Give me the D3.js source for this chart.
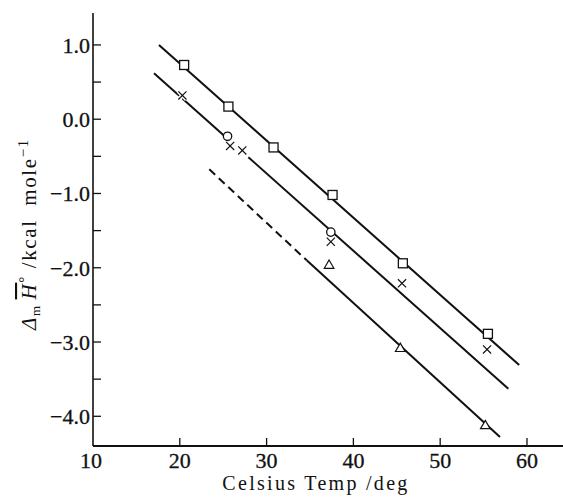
<!DOCTYPE html>
<html>
<head>
<meta charset="utf-8">
<script src="https://cdn.jsdelivr.net/npm/d3@7"></script>
<style>
  body { margin: 0; background: #fff; }
  svg text { font-family: "Liberation Serif", "DejaVu Serif", "Times New Roman", serif; fill: #111; }
</style>
</head>
<body>
<div id="chart"></div>
<script>
// data
var xTicks = [10, 20, 30, 40, 50, 60];
var yTicks = [1.0, 0.0, -1.0, -2.0, -3.0, -4.0];
var yMinor = [0.5, -0.5, -1.5, -2.5, -3.5];

var squareX = [20.5, 25.6, 30.8, 37.6, 45.7, 55.5];
var squareY = [0.73, 0.17, -0.38, -1.02, -1.94, -2.89];

var circleX = [25.5, 37.4];
var circleY = [-0.23, -1.52];

var crossX = [20.3, 25.8, 27.2, 37.4, 45.6, 55.4];
var crossY = [0.32, -0.36, -0.42, -1.65, -2.21, -3.10];

var triX = [37.2, 45.4, 55.2];
var triY = [-1.97, -3.09, -4.13];

// fitted lines, [x, y] ends of each drawn segment
var topLine = [[17.6, 1.0], [59.1, -3.31]];
var midLineA = [[17.03, 0.62], [25.5, -0.262]];
var midLineB = [[27.9, -0.512], [57.85, -3.63]];
var lowDashed = [[23.4, -0.675], [34.62, -1.90]];
var lowSolid = [[34.62, -1.90], [56.89, -4.28]];

var width = 563, height = 502;
var serif = "'Liberation Serif', 'DejaVu Serif', serif";

var svg = d3.select("#chart").append("svg")
  .attr("width", width)
  .attr("height", height);

var x = d3.scaleLinear().domain([10, 64.15]).range([93, 563]);
var y = d3.scaleLinear().domain([-4.4, 1.43]).range([446, 13]);

// axes
svg.append("line")
  .attr("x1", x(10)).attr("x2", x(10))
  .attr("y1", y(1.43)).attr("y2", y(-4.4))
  .attr("stroke", "#111").attr("stroke-width", 1.6);
svg.append("line")
  .attr("x1", x(10)).attr("x2", x(64.15))
  .attr("y1", y(-4.4)).attr("y2", y(-4.4))
  .attr("stroke", "#111").attr("stroke-width", 1.8);

// y ticks (inward)
svg.selectAll(".ytick")
  .data(yTicks.concat(yMinor))
  .enter().append("line")
  .attr("x1", x(10)).attr("x2", x(10) + 8)
  .attr("y1", d => y(d)).attr("y2", d => y(d))
  .attr("stroke", "#111").attr("stroke-width", 1.3);

svg.selectAll(".ylab")
  .data(yTicks)
  .enter().append("text")
  .attr("x", x(10) - 3)
  .attr("y", d => y(d))
  .attr("dy", "0.36em")
  .attr("text-anchor", "end")
  .attr("font-family", serif)
  .style("font-size", "22px")
  .style("stroke", "#111").style("stroke-width", 0.3)
  .text(d => (d < 0 ? "\u2212" : "") + Math.abs(d).toFixed(1));

// x ticks (inward)
svg.selectAll(".xtick")
  .data(xTicks.slice(1))
  .enter().append("line")
  .attr("x1", d => x(d)).attr("x2", d => x(d))
  .attr("y1", y(-4.4)).attr("y2", y(-4.4) - 8)
  .attr("stroke", "#111").attr("stroke-width", 1.3);

svg.selectAll(".xlab")
  .data(xTicks)
  .enter().append("text")
  .attr("x", d => x(d) - (d === 10 ? 2 : 0))
  .attr("y", 468)
  .attr("text-anchor", "middle")
  .attr("font-family", serif)
  .style("font-size", "22px")
  .style("stroke", "#111").style("stroke-width", 0.3)
  .text(d => d);

// axis titles
svg.append("text")
  .attr("x", 316)
  .attr("y", 490)
  .attr("text-anchor", "middle")
  .attr("font-family", serif)
  .style("font-size", "20px")
  .style("letter-spacing", "2.3px")
  .style("white-space", "pre")
  .text("Celsius Temp /deg");

var ylab = svg.append("text")
  .attr("transform", "translate(36,234) rotate(-90)")
  .attr("text-anchor", "middle")
  .attr("font-family", serif)
  .style("font-size", "21px")
  .style("letter-spacing", "1.6px")
  .style("white-space", "pre");
ylab.append("tspan").style("font-style", "italic").text("\u0394");
ylab.append("tspan").attr("dy", 4).style("font-size", "13px").text("m ");
ylab.append("tspan").attr("dy", -4).style("font-style", "italic")
  .style("text-decoration", "overline").text("H");
ylab.append("tspan").attr("dy", -7).style("font-size", "15px").text("\u00b0");
ylab.append("tspan").attr("dy", 7).text(" /kcal  mole");
ylab.append("tspan").attr("dy", -8).style("font-size", "15px").text("\u22121");

// lines
var line = d3.line().x(d => x(d[0])).y(d => y(d[1]));
[topLine, midLineA, midLineB, lowSolid].forEach(function (seg) {
  svg.append("path")
    .attr("d", line(seg))
    .attr("fill", "none")
    .attr("stroke", "#111")
    .attr("stroke-width", 2);
});
svg.append("path")
  .attr("d", line(lowDashed))
  .attr("fill", "none")
  .attr("stroke", "#111")
  .attr("stroke-width", 2)
  .attr("stroke-dasharray", "8,5");

// markers
var crosses = d3.zip(crossX, crossY);
svg.selectAll(".crossHalo")
  .data(crosses)
  .enter().append("path")
  .attr("d", d3.symbol().type(d3.symbolX).size(45))
  .attr("transform", d => "translate(" + x(d[0]) + "," + y(d[1]) + ")")
  .attr("stroke", "#fff").attr("stroke-width", 4).attr("fill", "none");
svg.selectAll(".cross")
  .data(crosses)
  .enter().append("path")
  .attr("d", d3.symbol().type(d3.symbolX).size(45))
  .attr("transform", d => "translate(" + x(d[0]) + "," + y(d[1]) + ")")
  .attr("stroke", "#111").attr("stroke-width", 1.2).attr("fill", "none");

svg.selectAll(".sq")
  .data(d3.zip(squareX, squareY))
  .enter().append("rect")
  .attr("x", d => x(d[0]) - 4.5)
  .attr("y", d => y(d[1]) - 4.5)
  .attr("width", 9).attr("height", 9)
  .attr("fill", "#fff").attr("stroke", "#111").attr("stroke-width", 1.3);

svg.selectAll(".circ")
  .data(d3.zip(circleX, circleY))
  .enter().append("circle")
  .attr("cx", d => x(d[0]))
  .attr("cy", d => y(d[1]))
  .attr("r", 4.2)
  .attr("fill", "#fff").attr("stroke", "#111").attr("stroke-width", 1.3);

svg.selectAll(".tri")
  .data(d3.zip(triX, triY))
  .enter().append("path")
  .attr("d", d3.symbol().type(d3.symbolTriangle).size(40))
  .attr("transform", d => "translate(" + x(d[0]) + "," + y(d[1]) + ")")
  .attr("fill", "#fff").attr("stroke", "#111").attr("stroke-width", 1.2);
</script>
</body>
</html>
